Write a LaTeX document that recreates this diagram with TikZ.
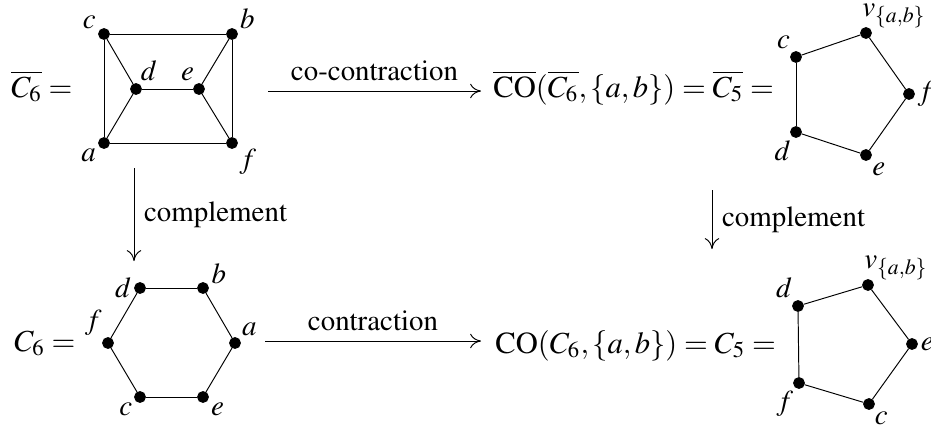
\documentclass[tikz,border=0pt,12pt]{standalone}
\usepackage[T1]{fontenc}
\usepackage{mathptmx}
\usetikzlibrary{arrows.meta}
\tikzset{vtx/.style={circle,fill,draw,inner sep=0pt,minimum size=4.5pt},
         every label/.style={inner sep=1pt},
         vlab/.style={anchor=south west,inner sep=0pt},
         eqn/.style={inner sep=0pt,font=\fontsize{12.7}{15}\selectfont},
         op/.style={-{To[length=4.5pt,width=6pt]}},
        }

\begin{document}
\begin{tikzpicture}[x=0.415pt,y=-0.415pt]
        \useasboundingbox(0,0)rectangle(931,426);

        % complement of C6
        \node[eqn,anchor=base east](lhsa)at(73,97){$\overline{C_6}=$};
        \node[vtx,label=158:$c$](ca)at(104,34){};
        \node[vtx,label=25:$b$](ba)at(232,34){};
        \node[vtx,label=70:$d$](da)at(136,89){};
        \node[vtx,label=112:$e$](ea)at(199,89){};
        \node[vtx,label=208:$a$](aa)at(104,143){};
        \node[vtx,label=-38:$f$](fa)at(232,143){};
        \draw(ca)--(ba);
        \draw(ca)--(aa);
        \draw(ca)--(da);
        \draw(ba)--(ea);
        \draw(ba)--(fa);
        \draw(da)--(ea);
        \draw(da)--(aa);
        \draw(ea)--(fa);
        \draw(aa)--(fa);

        \coordinate(cca)at(268,91);
        \coordinate(ccb)at(481,91);
        \draw[op](cca)--node[above]{co-contraction}(ccb);

        % complement of C5
        \node[eqn,anchor=base west](rhsa)at(493,97){$\overline{\mathrm{CO}}(\overline{C_6},\{a,b\})=\overline{C_5}=$};
        \node[vtx,label=123:$c$](cb)at(796,57){};
        \node[vtx,label={[vlab]north west:$v_{\{a,b\}}$}](vb)at(866,33){};
        \node[vtx,label=0:$f$](fb)at(909,94){};
        \node[vtx,label=-55:$e$](eb)at(866,155){};
        \node[vtx,label=-115:$d$](db)at(796,132){};
        \draw(cb)--(vb);
        \draw(vb)--(fb);
        \draw(fb)--(eb);
        \draw(eb)--(db);
        \draw(db)--(cb);

        \coordinate(cpa)at(134,168);
        \coordinate(cpb)at(134,261);
        \draw[op](cpa)--node[right]{complement}(cpb);
        \coordinate(cpc)at(712,190);
        \coordinate(cpd)at(712,249);
        \draw[op](cpc)--node[right]{complement}(cpd);

        % C6
        \node[eqn,anchor=base east](lhsb)at(76,351){$C_6=$};
        \node[vtx,label=178:$d$](dc)at(140,288){};
        \node[vtx,label=10:$b$](bc)at(203,288){};
        \node[vtx,label=125:$f$](fc)at(108,343){};
        \node[vtx,label=45:$a$](ac)at(235,343){};
        \node[vtx,label=-147:$c$](cc)at(140,397){};
        \node[vtx,label=-30:$e$](ec)at(203,397){};
        \draw(dc)--(bc);
        \draw(bc)--(ac);
        \draw(ac)--(ec);
        \draw(ec)--(cc);
        \draw(cc)--(fc);
        \draw(fc)--(dc);

        \coordinate(cta)at(265,341);
        \coordinate(ctb)at(481,341);
        \draw[op](cta)--node[above]{contraction}(ctb);

        % C5
        \node[eqn,anchor=base west](rhsb)at(495,353){$\mathrm{CO}(C_6,\{a,b\})=C_5=$};
        \node[vtx,label=120:$d$](dd)at(798,306){};
        \node[vtx,label={[vlab]north west:$v_{\{a,b\}}$}](vd)at(868,285){};
        \node[vtx,label=0:$e$](ed)at(912,344){};
        \node[vtx,label=-60:$c$](cd)at(869,404){};
        \node[vtx,label=-120:$f$](fd)at(799,383){};
        \draw(dd)--(vd);
        \draw(vd)--(ed);
        \draw(ed)--(cd);
        \draw(cd)--(fd);
        \draw(fd)--(dd);
\end{tikzpicture}
\end{document}
